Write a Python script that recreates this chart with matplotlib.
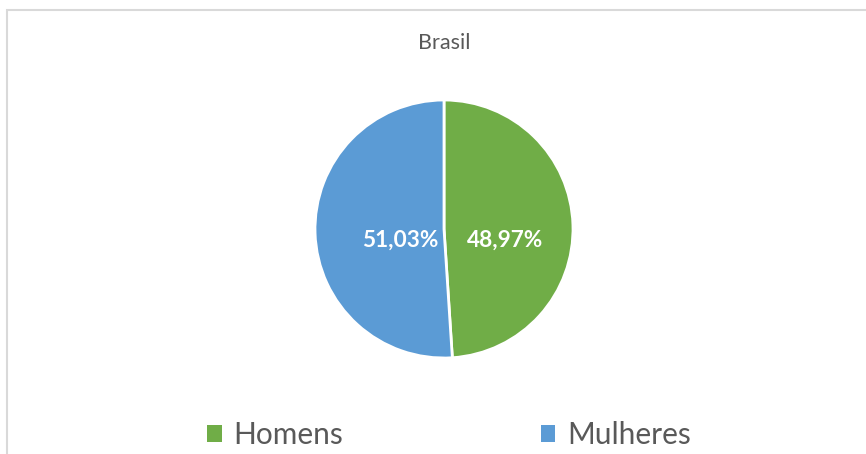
import matplotlib.pyplot as plt
from matplotlib.patches import Rectangle, Patch

categorias = ['Homens', 'Mulheres']
valores = [48.97, 51.03]
rotulos = ['48,97%', '51,03%']
cores = ['#70AD47', '#5B9BD5']
titulo = 'Brasil'

plt.rcParams['font.family'] = ['Lato', 'DejaVu Sans']

fig = plt.figure(figsize=(8.66, 4.54), dpi=100)

# moldura cinza clara do grafico
fig.patches.append(Rectangle((7 / 866, -0.05), 1.0, (454 - 10) / 454 + 0.05,
                             transform=fig.transFigure, fill=False,
                             edgecolor='#D9D9D9', linewidth=1.5))

# eixo da pizza: centro (444, 229), raio 129 px
r = 129
ax = fig.add_axes([(444 - r) / 866, (454 - 229 - r) / 454, 2 * r / 866, 2 * r / 454])
wedges, _ = ax.pie(valores, colors=cores, startangle=90, counterclock=False,
                   wedgeprops=dict(edgecolor='white', linewidth=2))
ax.set_aspect('auto')
ax.set_xlim(-1, 1)
ax.set_ylim(-1, 1)

# rotulos de percentual
pos = [(0.47, -0.09), (-0.34, -0.09)]
for (x, y), txt in zip(pos, rotulos):
    ax.text(x, y, txt, ha='center', va='center', color='white',
            fontsize=16.3, fontweight='bold')

fig.text(444 / 866, 1 - 43 / 454, titulo, ha='center', va='center',
         fontsize=15.5, color='#595959')

handles = [Patch(facecolor=c, edgecolor='none') for c in cores]
leg = fig.legend(handles, categorias, loc='center', bbox_to_anchor=(449 / 866, 1 - 435 / 454),
                 ncol=2, frameon=False, fontsize=21.5, handlelength=0.5, handleheight=0.5,
                 handletextpad=0.4, columnspacing=6.6, labelcolor='#595959')

fig.savefig('out.png', dpi=100, facecolor='white')
